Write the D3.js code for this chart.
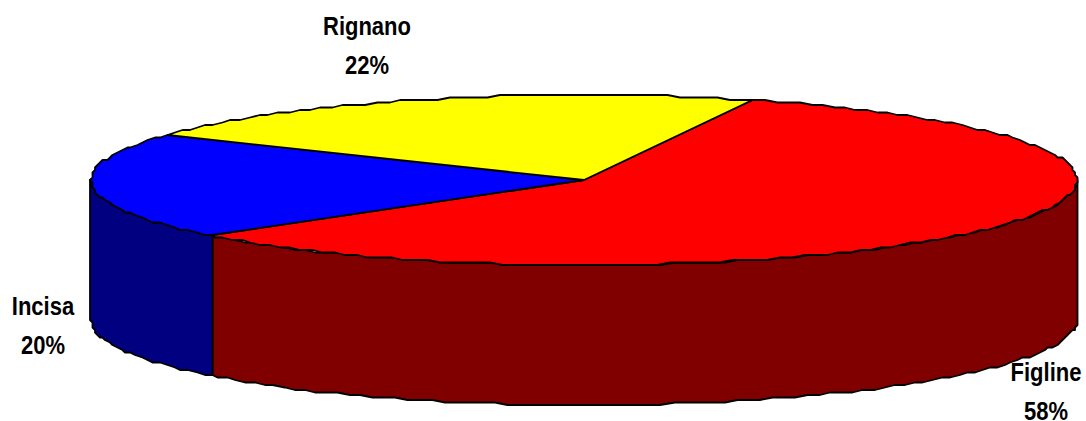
<!DOCTYPE html>
<html>
<head>
<meta charset="utf-8">
<script src="https://cdn.jsdelivr.net/npm/d3@7"></script>
<style>
  html, body { margin: 0; padding: 0; background: #fff; overflow: hidden; }
  text { font-family: "Liberation Sans", Arial, sans-serif; font-weight: bold; fill: #000; }
</style>
</head>
<body>
<div id="chart"></div>
<script>
const width = 1086;
const height = 421;

// values (labels show them rounded)
const towns = ["Figline", "Incisa", "Rignano"];
const shares = [58, 20.4, 21.6];

const topColor = d3.scaleOrdinal().domain(towns).range(["#ff0000", "#0000ff", "#ffff00"]);
const sideColor = d3.scaleOrdinal().domain(towns).range(["#800000", "#000080", "#808000"]);

const svg = d3.select("#chart")
    .append("svg")
    .attr("width", width)
    .attr("height", height)
    .style("display", "block");

// unit circle -> squashed ellipse
const x = d3.scaleLinear().domain([-1, 1]).range([91, 1077]);
const y = d3.scaleLinear().domain([-1, 1]).range([95, 265]);
const depth = 140;

const pie = d3.pie()
    .sort(null)
    .startAngle(20 * Math.PI / 180)
    .endAngle(380 * Math.PI / 180);

const slices = pie(shares).map((d, i) => ({ ...d, town: towns[i] }));

// the original has a stepped outline, so sample coarsely and snap to a rough grid
const step = 1.5 * Math.PI / 180;
const grid = 2.5;
const snap = v => Math.round(v / grid) * grid;
const rim = (a0, a1) => {
    const pts = d3.range(a0, a1, step).concat([a1]);
    return pts.map(a => [snap(x(Math.sin(a))), snap(y(-Math.cos(a)))]);
};
const line = d3.line();

// side walls, only the front half of the pie
const frontStart = Math.PI / 2;
const frontEnd = 3 * Math.PI / 2;

svg.selectAll("path.side")
    .data(slices.filter(d => d.endAngle > frontStart && d.startAngle < frontEnd))
    .enter()
    .append("path")
    .attr("class", "side")
    .attr("d", d => {
        const edge = rim(Math.max(d.startAngle, frontStart), Math.min(d.endAngle, frontEnd));
        const lower = edge.map(p => [p[0], p[1] + depth]).reverse();
        return line(edge.concat(lower)) + "Z";
    })
    .attr("fill", d => sideColor(d.town))
    .attr("stroke", "#000")
    .attr("stroke-width", 1.8)
    .attr("stroke-linejoin", "round");

// top face
svg.selectAll("path.top")
    .data(slices)
    .enter()
    .append("path")
    .attr("class", "top")
    .attr("d", d => line([[x(0), y(0)]].concat(rim(d.startAngle, d.endAngle))) + "Z")
    .attr("fill", d => topColor(d.town))
    .attr("stroke", "#000")
    .attr("stroke-width", 1.8)
    .attr("stroke-linejoin", "round");

// labels, the original type is tall and narrow
const labelSpots = { Figline: [1046, 381], Incisa: [43, 315], Rignano: [367, 35] };
const lineGap = 39;

const labels = svg.selectAll("g.label")
    .data(slices)
    .enter()
    .append("g")
    .attr("class", "label")
    .attr("transform", d => `translate(${labelSpots[d.town]}) scale(0.88,1)`)
    .attr("text-anchor", "middle")
    .style("font-size", "25px");

labels.append("text").text(d => d.town);
labels.append("text")
    .attr("y", lineGap)
    .text(d => Math.round(d.value) + "%");
</script>
</body>
</html>
